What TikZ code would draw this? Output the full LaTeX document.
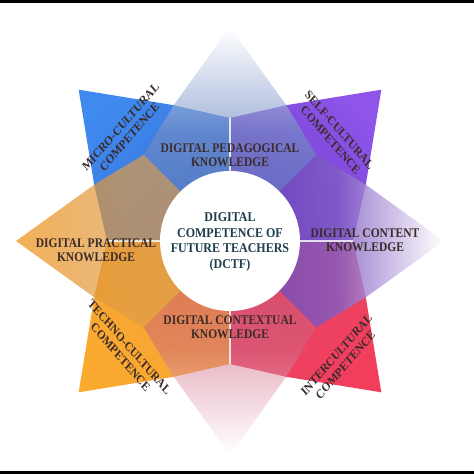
\documentclass[tikz,border=0pt]{standalone}
\usepackage{fontspec}
\setmainfont{Liberation Serif}
\usetikzlibrary{calc}

\definecolor{microtip}{HTML}{3F8AEF}
\definecolor{microbase}{HTML}{3870D8}
\definecolor{selftip}{HTML}{8E55E8}
\definecolor{selfbase}{HTML}{6E3CCC}
\definecolor{intertip}{HTML}{F23E5C}
\definecolor{interbase}{HTML}{E4486A}
\definecolor{technotip}{HTML}{FBAA30}
\definecolor{technobase}{HTML}{F0A035}
\definecolor{pedagray}{HTML}{5A78B8}
\definecolor{contentviolet}{HTML}{6A40B8}
\definecolor{contextmauve}{HTML}{C64C6C}
\definecolor{practicaltip}{HTML}{EC8E10}
\definecolor{practicaltan}{HTML}{DC9E50}
\definecolor{labeltext}{HTML}{3B2B2B}
\definecolor{coretext}{HTML}{1E3D4C}

\tikzset{
    knowledge/.style={font=\bfseries\fontsize{11.5}{12.5}\selectfont, text=labeltext, align=center, inner sep=0pt, yscale=1.15},
    competence/.style={font=\bfseries\fontsize{11}{12.5}\selectfont, text=labeltext, align=center, inner sep=0pt, yscale=1.15},
    hub/.style={circle, fill=white, minimum size=140, inner sep=0pt},
    dctf/.style={font=\bfseries\fontsize{12}{14}\selectfont, text=coretext, align=center, inner sep=0pt, yscale=1.12}
}

\begin{document}
\begin{tikzpicture}[x=1pt, y=1pt]
    \useasboundingbox (-230,-233) rectangle (244,241);
    \fill[black] (-230,238) rectangle (244,241);
    \fill[black] (-230,-230) rectangle (244,-233);

    % competence points
    \foreach \ang/\sa/\tipcol/\basecol in {135/45/microtip/microbase, 45/-45/selftip/selfbase, -45/-135/intertip/interbase, -135/135/technotip/technobase}
        \shade[top color=\tipcol, bottom color=\basecol, shading angle=\sa]
            (0,0) -- ({\ang-45}:123) -- ({\ang-22.5}:147) -- (\ang:214) -- ({\ang+22.5}:147) -- ({\ang+45}:123) -- cycle;

    % knowledge points
    \foreach \ang/\sa/\tipcol/\basecol/\op in {90/0/white/pedagray/0.65, 0/-90/white/contentviolet/0.8, -90/-180/white/contextmauve/0.5, 180/90/practicaltip/practicaltan/0.7}
        \shade[opacity=\op, top color=\tipcol, bottom color=\basecol, middle color=\basecol!85!\tipcol, shading angle=\sa]
            (0,0) -- ({\ang-45}:122) -- ({\ang-22.5}:147) -- (\ang:214) -- ({\ang+22.5}:147) -- ({\ang+45}:122) -- cycle;

    \foreach \ang in {0,90,180,270}
        \draw[white, opacity=0.8, line width=2.5] (\ang:70) -- (\ang:123);

    \node[hub] (hub) at (0,0) {};
    \node[dctf] (core) at (0,-1) {DIGITAL\\COMPETENCE OF\\FUTURE TEACHERS\\(DCTF)};

    \node[knowledge] (pedagogical) at (0,86) {DIGITAL PEDAGOGICAL\\KNOWLEDGE};
    \node[knowledge] (content) at (135,1) {DIGITAL CONTENT\\KNOWLEDGE};
    \node[knowledge] (contextual) at (0,-86) {DIGITAL CONTEXTUAL\\KNOWLEDGE};
    \node[knowledge] (practical) at (-134,-9) {DIGITAL PRACTICAL\\KNOWLEDGE};

    \node[competence, rotate=45] (micro) at (-105,109) {MICRO-CULTURAL\\COMPETENCE};
    \node[competence, rotate=-45] (selfcult) at (105,106) {SELF-CULTURAL\\COMPETENCE};
    \node[competence, rotate=-45] (techno) at (-105,-111) {TECHNO-CULTURAL\\COMPETENCE};
    \node[competence, rotate=45] (inter) at (111,-119) {INTERCULTURAL\\COMPETENCE};
\end{tikzpicture}
\end{document}
